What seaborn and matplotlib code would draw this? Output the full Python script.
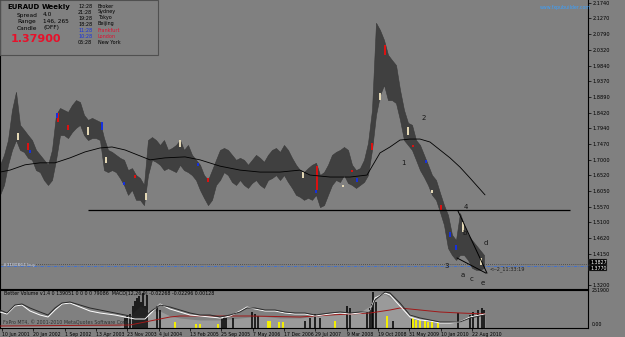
# EURAUD weekly chart (MT4 style) with Better Volume / MACD sub-panel

import numpy as np
import pandas as pd
import matplotlib
matplotlib.use("Agg")
import matplotlib.pyplot as plt
import seaborn as sns

# ---- price data (weekly bars, one value every 4 bars) ----
bar_index = list(range(0, 488, 4))
price_high = [1.684, 1.714, 1.759, 1.850, 1.905, 1.805, 1.790, 1.774, 1.759, 1.729,
              1.714, 1.699, 1.684, 1.729, 1.835, 1.856, 1.850, 1.844, 1.865, 1.880,
              1.874, 1.835, 1.820, 1.826, 1.820, 1.814, 1.765, 1.729, 1.723, 1.714,
              1.705, 1.699, 1.668, 1.674, 1.653, 1.644, 1.623, 1.759, 1.768, 1.759,
              1.744, 1.759, 1.729, 1.735, 1.744, 1.759, 1.729, 1.744, 1.714, 1.699,
              1.684, 1.653, 1.638, 1.668, 1.699, 1.729, 1.735, 1.729, 1.714, 1.699,
              1.705, 1.699, 1.684, 1.699, 1.714, 1.705, 1.693, 1.714, 1.729, 1.735,
              1.723, 1.744, 1.729, 1.705, 1.684, 1.668, 1.662, 1.674, 1.684, 1.690,
              1.653, 1.662, 1.684, 1.714, 1.723, 1.729, 1.738, 1.729, 1.684, 1.668,
              1.674, 1.699, 1.750, 1.850, 2.114, 2.092, 2.062, 2.017, 2.001, 1.986,
              1.911, 1.850, 1.811, 1.805, 1.759, 1.744, 1.714, 1.684, 1.653, 1.638,
              1.599, 1.562, 1.532, 1.472, 1.456, 1.538, 1.502, 1.472, 1.456, 1.441,
              1.426, 1.411]
price_low = [1.593, 1.623, 1.684, 1.729, 1.759, 1.729, 1.723, 1.705, 1.699, 1.668,
             1.662, 1.638, 1.623, 1.638, 1.699, 1.774, 1.774, 1.765, 1.783, 1.796,
             1.805, 1.774, 1.759, 1.765, 1.765, 1.759, 1.668, 1.662, 1.668, 1.662,
             1.644, 1.623, 1.593, 1.608, 1.578, 1.578, 1.562, 1.653, 1.699, 1.693,
             1.684, 1.668, 1.674, 1.668, 1.662, 1.684, 1.668, 1.662, 1.653, 1.638,
             1.608, 1.584, 1.562, 1.578, 1.623, 1.638, 1.662, 1.653, 1.632, 1.623,
             1.638, 1.623, 1.614, 1.629, 1.638, 1.623, 1.614, 1.638, 1.644, 1.653,
             1.638, 1.653, 1.632, 1.614, 1.593, 1.587, 1.578, 1.584, 1.578, 1.593,
             1.556, 1.562, 1.593, 1.623, 1.638, 1.632, 1.653, 1.629, 1.623, 1.614,
             1.623, 1.632, 1.653, 1.729, 1.835, 1.895, 1.926, 1.880, 1.880, 1.871,
             1.820, 1.759, 1.744, 1.729, 1.699, 1.668, 1.647, 1.623, 1.593, 1.578,
             1.541, 1.502, 1.432, 1.411, 1.396, 1.411, 1.411, 1.396, 1.372, 1.366,
             1.366, 1.372]

# highlighted candles: bar, low, high
red_bars = [(28, 1.729, 1.750), (58, 1.814, 1.841), (68, 1.790, 1.805), (135, 1.644, 1.653),
            (208, 1.632, 1.644), (317, 1.608, 1.680), (352, 1.662, 1.668), (372, 1.729, 1.750),
            (385, 2.017, 2.047), (413, 1.738, 1.744), (441, 1.547, 1.562)]
blue_bars = [(30, 1.720, 1.729), (57, 1.826, 1.841), (102, 1.790, 1.814), (124, 1.623, 1.632),
             (198, 1.680, 1.690), (316, 1.599, 1.608), (357, 1.632, 1.644), (426, 1.690, 1.699),
             (450, 1.466, 1.481), (456, 1.426, 1.441)]
cream_bars = [(18, 1.759, 1.780), (88, 1.774, 1.799), (106, 1.690, 1.708), (146, 1.578, 1.599),
              (180, 1.738, 1.759), (303, 1.644, 1.662), (343, 1.617, 1.623), (380, 1.880, 1.901),
              (408, 1.774, 1.799), (432, 1.599, 1.608), (463, 1.481, 1.511), (481, 1.381, 1.402)]

# moving average
ma_x = [0, 10, 25, 40, 55, 70, 85, 100, 112, 125, 140, 150, 165, 185, 200, 220, 240, 260,
        280, 300, 310, 330, 350, 367, 380, 390, 400, 410, 420, 430, 440, 450, 460, 470, 485]
ma_val = [1.662, 1.668, 1.684, 1.690, 1.690, 1.705, 1.723, 1.735, 1.738, 1.729, 1.711, 1.699,
          1.705, 1.708, 1.699, 1.680, 1.668, 1.662, 1.662, 1.668, 1.653, 1.647, 1.647, 1.653,
          1.720, 1.738, 1.759, 1.762, 1.762, 1.753, 1.729, 1.705, 1.677, 1.644, 1.593]

support_level = 1.547
ask_price = 1.3827
bid_price = 1.3770

price_ticks = [2.1740, 2.1270, 2.0790, 2.0320, 1.9840, 1.9370, 1.8890, 1.8420, 1.7940,
               1.7470, 1.7000, 1.6520, 1.6050, 1.5570, 1.5100, 1.4620, 1.4150, 1.3200]

date_labels = ["10 Jun 2001", "20 Jan 2002", "1 Sep 2002", "13 Apr 2003", "23 Nov 2003",
               "4 Jul 2004", "13 Feb 2005", "25 Sep 2005", "7 May 2006", "17 Dec 2006",
               "29 Jul 2007", "9 Mar 2008", "19 Oct 2008", "31 May 2009", "10 Jan 2010",
               "22 Aug 2010"]

# ---- sub-panel (indicator) data ----
ind_x = [0, 7, 15, 22, 30, 40, 48, 55, 62, 70, 80, 90, 100, 115, 125, 135, 145, 150, 160,
         170, 180, 190, 200, 210, 220, 230, 240, 247, 255, 265, 275, 285, 295, 305, 315,
         330, 340, 350, 360, 370, 375, 385, 390, 400, 410, 420, 430, 440, 450, 460, 470,
         480, 485]
macd_dark = [16, 13, 21, 22, 18, 14, 11, 18, 23, 24, 21, 18, 16, 13, 11, 9, 9, 14, 21,
             19, 16, 13, 11, 11, 9, 11, 14, 18, 18, 16, 16, 14, 13, 13, 11,
             13, 14, 13, 14, 14, 26, 34, 33, 23, 11, 8, 6, 4, 4, 4, 8, 10, 11]
macd_white = [14, 12, 20, 21, 15, 11, 9, 16, 22, 23, 19, 15, 13, 11, 9, 7, 7, 12, 22,
              17, 14, 11, 10, 9, 8, 10, 15, 19, 17, 15, 15, 13, 12, 12, 10,
              12, 13, 12, 13, 15, 28, 33, 31, 20, 9, 6, 5, 3, 3, 4, 9, 11, 12]
red_x = [0, 130, 140, 155, 170, 180, 200, 250, 300, 330, 370, 390, 400, 420, 440, 460, 485]
red_val = [0, 1, 3, 6, 9, 10, 10, 10, 9, 11, 13, 16, 18, 16, 14, 13, 12]
vol_area_x = [0, 120, 130, 140, 150, 160, 170, 180, 200, 220, 240, 260, 280, 300, 320, 340,
              360, 370, 378, 385, 395, 405, 415, 430, 445, 460, 475, 485]
vol_area = [0, 0, 10, 20, 15, 15, 10, 8, 6, 6, 8, 10, 8, 8, 10, 12, 14, 20, 30, 32, 25, 15,
            10, 6, 4, 6, 10, 12]
vol_black_x = [125, 127, 130, 133, 135, 137, 139, 141, 143, 145, 147, 157, 160, 222, 224,
               226, 233, 252, 255, 258, 305, 310, 315, 320, 347, 350, 367, 370, 372, 373,
               376, 393, 412, 458, 470, 473, 478, 482, 484]
vol_black = [8, 10, 12, 20, 25, 28, 30, 24, 33, 20, 31, 20, 16, 7, 9, 8, 8, 14, 12, 10,
             5, 8, 12, 8, 20, 18, 14, 18, 22, 34, 24, 5, 7, 13, 11, 14, 16, 18, 16]
vol_yellow_x = [175, 196, 200, 218, 268, 270, 279, 283, 335, 387, 413, 416, 420, 425, 428,
                432, 438]
vol_yellow = [4, 2, 2, 2, 5, 5, 4, 4, 5, 10, 8, 6, 6, 5, 4, 4, 3]

# ---- style ----
sns.set_theme(style="white")
plt.rcParams['font.family'] = ['DejaVu Sans']
BG = '#808080'
W, H = 625, 337

fig = plt.figure(figsize=(W / 100, H / 100), dpi=100, facecolor=BG)


def ftext(x, y, s, **kw):
    # place text using pixel coordinates of the figure
    fig.text(x / W, 1 - y / H, s, va='center', **kw)


# main price panel
ax = fig.add_axes([0, 1 - 289 / H, 588 / W, 289 / H], facecolor=BG)
ax.set_xlim(0, 588)
ax.set_ylim(1.308, 2.183)

ax.fill_between(bar_index, price_low, price_high, color='#404040', lw=0.4,
                edgecolor='#383838', zorder=2)
for bars, col in [(red_bars, '#e01010'), (blue_bars, '#1530e0'), (cream_bars, '#e8dcb8')]:
    bx = [b[0] for b in bars]
    ax.vlines(bx, [b[1] for b in bars], [b[2] for b in bars], color=col, lw=1.4, zorder=3)

sns.lineplot(x=ma_x, y=ma_val, ax=ax, color='black', lw=0.6, zorder=4)

ax.hlines(support_level, 88, 570, color='black', lw=0.9, zorder=4)
ax.plot([457, 486], [1.402, 1.356], color='black', lw=0.7, zorder=4)
ax.plot([458, 487], [1.544, 1.356], color='black', lw=0.7, zorder=4)
ax.axhline(ask_price, color='#404040', ls=(0, (1, 1.5)), lw=0.6, zorder=1)
ax.axhline(bid_price, color='#3a6fd8', ls=(0, (4, 1.5, 1, 1.5)), lw=0.6, zorder=1)

wave_labels = [(403, 1.689, "1"), (424, 1.825, "2"), (447, 1.378, "3"), (466, 1.556, "4"),
               (465, 1.479, "b"), (486, 1.446, "d"), (463, 1.351, "a"), (472, 1.339, "c"),
               (483, 1.327, "e")]
for lx, ly, s in wave_labels:
    ax.text(lx, ly, s, fontsize=5, color='#151515', ha='center', va='center', zorder=5)
ax.text(489, 1.369, "<--2_11:33:19", fontsize=3.6, color='#202020', va='center', zorder=5)
ax.text(3, ask_price - 0.003, "#3180864 buy", fontsize=3.2, color='#cfd8f0', va='center')

ax.set_yticks(price_ticks)
ax.set_yticklabels([f"{t:.4f}" for t in price_ticks])
ax.yaxis.tick_right()
ax.tick_params(axis='y', labelsize=3.6, length=2, width=0.5, pad=1.5, colors='black',
               right=True)
ax.set_xticks([])
ax.spines['top'].set_visible(False)
for side in ['left', 'right', 'bottom']:
    ax.spines[side].set_color('black')
    ax.spines[side].set_linewidth(0.8)

# price boxes on the axis
for pr, yp in [(ask_price, 262.5), (bid_price, 268)]:
    fig.text(590 / W, 1 - yp / H, f"{pr:.4f}", fontsize=3.4, color='white', va='center',
             bbox=dict(facecolor='black', edgecolor='#606060', pad=0.6, lw=0.3))

# info box top-left
fig.patches.append(plt.Rectangle((0, 1 - 55 / H), 158 / W, 55 / H, transform=fig.transFigure,
                                 fill=False, edgecolor='#505050', lw=0.8))
ftext(7, 7, "EURAUD", fontsize=5, fontweight='bold', color='black')
ftext(42, 7, "Weekly", fontsize=5, fontweight='bold', color='black')
ftext(17, 15, "Spread", fontsize=4.2, color='black')
ftext(43, 15, "4.0", fontsize=4.2, color='black')
ftext(17, 21.5, "Range", fontsize=4.2, color='black')
ftext(43, 21.5, "146, 265", fontsize=4.2, color='black')
ftext(17, 28, "Candle", fontsize=4.2, color='black')
ftext(43, 28, "(OFF)", fontsize=4.2, color='black')
ftext(11, 39, "1.37900", fontsize=8, fontweight='bold', color='#e8102a')

clock_times = ["12:28", "21:28", "19:28", "18:28", "11:28", "10:28", "05:28"]
clock_names = ["Broker", "Sydney", "Tokyo", "Beijing", "Frankfurt", "London", "New York"]
for i, (t, n) in enumerate(zip(clock_times, clock_names)):
    yy = 6 + i * 6
    tc = '#1530e0' if n in ("Frankfurt", "London") else 'black'
    nc = '#e01030' if n in ("Frankfurt", "London") else 'black'
    ftext(78, yy, t, fontsize=3.5, color=tc)
    ftext(98, yy, n, fontsize=3.5, color=nc)

ftext(540, 8, "www.fxpubuilder.com", fontsize=3.4, color='#3aa0ff')

# indicator panel
ax2 = fig.add_axes([0, 1 - 328 / H, 588 / W, 38 / H], facecolor=BG)
ax2.set_xlim(0, 588)
ax2.set_ylim(-2, 36)
ax2.fill_between(vol_area_x, -2, vol_area, color='#9a9a9a', lw=0, zorder=1)
ax2.vlines(vol_black_x, -2, vol_black, color='black', lw=1.1, zorder=2)
ax2.vlines(vol_yellow_x, -2, vol_yellow, color='#f5f000', lw=1.4, zorder=2)
sns.lineplot(x=red_x, y=red_val, ax=ax2, color='#a01818', lw=0.7, zorder=3)
sns.lineplot(x=ind_x, y=macd_white, ax=ax2, color='white', lw=0.7, zorder=4)
sns.lineplot(x=ind_x, y=macd_dark, ax=ax2, color='#2a2a2a', lw=0.7, zorder=4)

ax2.set_yticks([])
ax2.set_xticks([2 + i * 31.33 for i in range(len(date_labels))])
ax2.set_xticklabels(date_labels, ha='left')
ax2.tick_params(axis='x', labelsize=3.3, length=2, width=0.5, pad=1, colors='black',
                bottom=True)
for side in ['left', 'right', 'bottom', 'top']:
    ax2.spines[side].set_visible(True)
    ax2.spines[side].set_color('black')
    ax2.spines[side].set_linewidth(0.8)

ftext(4, 294, "Better Volume v1.4 0 139051 0 0 0 0 79086  MACD(12,26,9) -0.02268 -0.02296 0.00128",
      fontsize=3.4, color='black')
ftext(3, 322, "FxPro MT4, \u00a9 2001-2010 MetaQuotes Software Corp.", fontsize=3.4, color='#303030')
ftext(592, 291, "251900", fontsize=3.4, color='black')
ftext(592, 325, "0.00", fontsize=3.4, color='black')

fig.savefig("out.png", dpi=100, facecolor=BG)
